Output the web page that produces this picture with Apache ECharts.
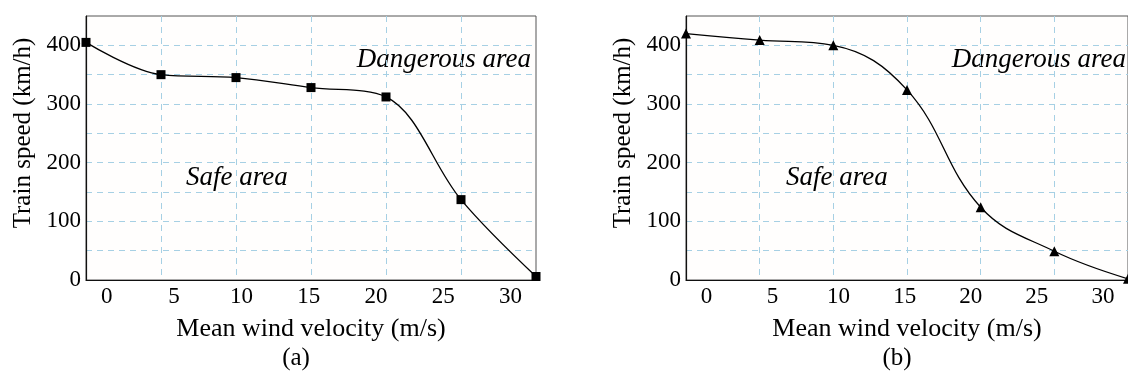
<!DOCTYPE html>
<html>
<head>
<meta charset="utf-8">
<script src="https://cdn.jsdelivr.net/npm/echarts@6/dist/echarts.min.js"></script>
<style>
  html, body { margin: 0; padding: 0; background: #fff; }
  #main { width: 1128px; height: 376px; }
</style>
</head>
<body>
<div id="main"></div>
<script>
// wind velocity at the dashed grid columns (m/s)
const windSpeeds = [0, 5, 10, 15, 20, 25, 30];
// (a) square markers, (b) triangle markers - train speed km/h
const speedA = [405, 350, 345, 328, 312, 137, 6];
const speedB = [420, 409, 400, 324, 124, 49, 2];
// printed tick labels of the wind axis, and its visible range
const windTicks = [0, 5, 10, 15, 20, 25, 30];
const windLabelMin = -1.55;
const windLabelMax = 31.9;
const speedTicks = [0, 100, 200, 300, 400];

const FONT = "'Liberation Serif', 'DejaVu Serif', serif";
const gridBlue = "#a6d0e4";

let chart = echarts.init(document.getElementById("main"));

function labelAxis(gridIndex) {
  return {
    type: "value",
    gridIndex: gridIndex,
    position: "bottom",
    min: windLabelMin,
    max: windLabelMax,
    name: "Mean wind velocity (m/s)",
    nameLocation: "middle",
    nameGap: 36,
    nameTextStyle: { fontFamily: FONT, fontSize: 26, color: "#000" },
    axisLine: { show: true, onZero: false, lineStyle: { color: "#111", width: 1.2 } },
    axisTick: { show: false },
    axisLabel: {
      customValues: windTicks,
      fontFamily: FONT,
      fontSize: 23,
      color: "#000",
      margin: 5,
    },
    splitLine: { show: false },
  };
}

function gridAxis(gridIndex) {
  return {
    type: "value",
    gridIndex: gridIndex,
    position: "top",
    min: 0,
    max: 30,
    interval: 5,
    axisLine: { show: false },
    axisTick: { show: false },
    axisLabel: { show: false },
    splitLine: {
      show: true,
      showMinLine: false,
      showMaxLine: false,
      lineStyle: { color: gridBlue, type: [6, 5], width: 1 },
    },
  };
}

function speedAxis(gridIndex) {
  return {
    type: "value",
    gridIndex: gridIndex,
    min: 0,
    max: 450,
    interval: 50,
    name: "Train speed (km/h)",
    nameLocation: "middle",
    nameGap: 50,
    nameTextStyle: {
      fontFamily: FONT,
      fontSize: 25,
      color: "#000",
      padding: [0, 0, 0, 30],
    },
    axisLine: { show: true, onZero: false, lineStyle: { color: "#111", width: 1.2 } },
    axisTick: { show: false },
    axisLabel: {
      fontFamily: FONT,
      fontSize: 23,
      color: "#000",
      margin: 5,
      formatter: (v) => (speedTicks.indexOf(v) >= 0 ? String(v) : ""),
    },
    splitLine: {
      show: true,
      showMinLine: false,
      showMaxLine: false,
      lineStyle: { color: gridBlue, type: [6, 5], width: 1 },
    },
  };
}

function zip(xs, ys) {
  return xs.map((x, i) => [x, ys[i]]);
}

function areaText(x, y, text, align) {
  return {
    type: "text",
    x: x,
    y: y,
    style: {
      text: text,
      fill: "#000",
      font: "italic 27px " + FONT,
      textAlign: align,
      textVerticalAlign: "middle",
    },
  };
}

let option = {
  animation: false,
  backgroundColor: "#fff",
  grid: [
    { left: 86, top: 16, width: 450, height: 264, show: true, backgroundColor: "#fffefd", borderColor: "#555", borderWidth: 1 },
    { left: 686, top: 16, width: 450, height: 264, show: true, backgroundColor: "#fffefd", borderColor: "#555", borderWidth: 1 },
  ],
  xAxis: [labelAxis(0), gridAxis(0), labelAxis(1), gridAxis(1)],
  yAxis: [speedAxis(0), speedAxis(1)],
  series: [
    {
      type: "line",
      xAxisIndex: 1,
      yAxisIndex: 0,
      data: zip(windSpeeds, speedA),
      smooth: 0.35,
      symbol: "rect",
      symbolSize: 9,
      itemStyle: { color: "#000" },
      lineStyle: { color: "#000", width: 1.3 },
      clip: false,
    },
    {
      type: "line",
      xAxisIndex: 3,
      yAxisIndex: 1,
      data: zip(windSpeeds, speedB),
      smooth: 0.4,
      symbol: "triangle",
      symbolSize: 10,
      itemStyle: { color: "#000" },
      lineStyle: { color: "#000", width: 1.3 },
      clip: false,
    },
  ],
  graphic: [
    areaText(531, 60, "Dangerous area", "right"),
    areaText(186, 178, "Safe area", "left"),
    areaText(1126, 60, "Dangerous area", "right"),
    areaText(786, 178, "Safe area", "left"),
    {
      type: "text", x: 296, y: 358,
      style: { text: "(a)", fill: "#000", font: "25px " + FONT, textAlign: "center", textVerticalAlign: "middle" },
    },
    {
      type: "text", x: 897, y: 358,
      style: { text: "(b)", fill: "#000", font: "25px " + FONT, textAlign: "center", textVerticalAlign: "middle" },
    },
  ],
};

chart.setOption(option);
</script>
</body>
</html>
